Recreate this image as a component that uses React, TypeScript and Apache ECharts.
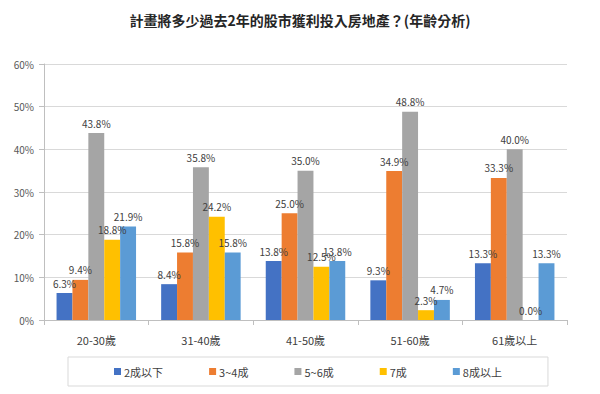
import React, { useEffect, useRef } from "react";
import * as echarts from "echarts";

const categories = ["20-30歲", "31-40歲", "41-50歲", "51-60歲", "61歲以上"];
const seriesNames = ["2成以下", "3~4成", "5~6成", "7成", "8成以上"];
const s1 = [6.3, 8.4, 13.8, 9.3, 13.3];
const s2 = [9.4, 15.8, 25.0, 34.9, 33.3];
const s3 = [43.8, 35.8, 35.0, 48.8, 40.0];
const s4 = [18.8, 24.2, 12.5, 2.3, 0.0];
const s5 = [21.9, 15.8, 13.8, 4.7, 13.3];
const colors = ["#4472C4", "#ED7D31", "#A5A5A5", "#FFC000", "#5B9BD5"];
const FONT = "'Noto Sans CJK TC', 'Noto Sans', sans-serif";

export default function App() {
  const ref = useRef<HTMLDivElement>(null);
  useEffect(() => {
    const chart = echarts.init(ref.current!, null, { renderer: "svg" });
    const data = [s1, s2, s3, s4, s5];
    chart.setOption({
      animation: false,
      textStyle: { fontFamily: FONT },
      title: {
        text: "計畫將多少過去2年的股市獲利投入房地產？(年齡分析)",
        left: "center",
        top: 8,
        textStyle: { fontSize: 14, fontWeight: "bold", color: "#262626", fontFamily: FONT },
      },
      color: colors,
      grid: { left: 44, right: 33, top: 64, bottom: 74 },
      legend: {
        bottom: 8,
        left: 68,
        width: 488,
        itemWidth: 7,
        itemHeight: 7,
        itemGap: 46,
        icon: "rect",
        borderColor: "#D9D9D9",
        borderWidth: 1,
        padding: [9, 46, 9, 46],
        textStyle: { fontSize: 11, color: "#404040", fontFamily: FONT, padding: [0, 0, 0, -2] },
        data: seriesNames,
      },
      xAxis: {
        type: "category",
        data: categories,
        axisLine: { lineStyle: { color: "#BFBFBF" } },
        axisTick: { show: true, length: 5, lineStyle: { color: "#BFBFBF" } },
        axisLabel: { fontSize: 11, color: "#404040", margin: 14, fontFamily: FONT },
      },
      yAxis: {
        type: "value",
        min: 0,
        max: 60,
        interval: 10,
        axisLine: { show: true, lineStyle: { color: "#BFBFBF" } },
        axisTick: { show: true, length: 5, lineStyle: { color: "#BFBFBF" } },
        axisLabel: { fontSize: 10, color: "#595959", formatter: "{value}%", margin: 10, fontFamily: FONT },
        splitLine: { lineStyle: { color: "#D9D9D9" } },
      },
      series: seriesNames.map((name, i) => ({
        name,
        type: "bar",
        data: data[i],
        barGap: "0%",
        barCategoryGap: "24%",
        itemStyle: { color: colors[i] },
        label: {
          show: true,
          position: "top",
          distance: 5,
          fontSize: 10,
          color: "#404040",
          fontFamily: FONT,
          formatter: (p: any) => p.value.toFixed(1) + "%",
        },
      })),
    });
    return () => chart.dispose();
  }, []);
  return <div ref={ref} style={{ width: 600, height: 394, position: "absolute", left: 0, top: 0 }} />;
}
